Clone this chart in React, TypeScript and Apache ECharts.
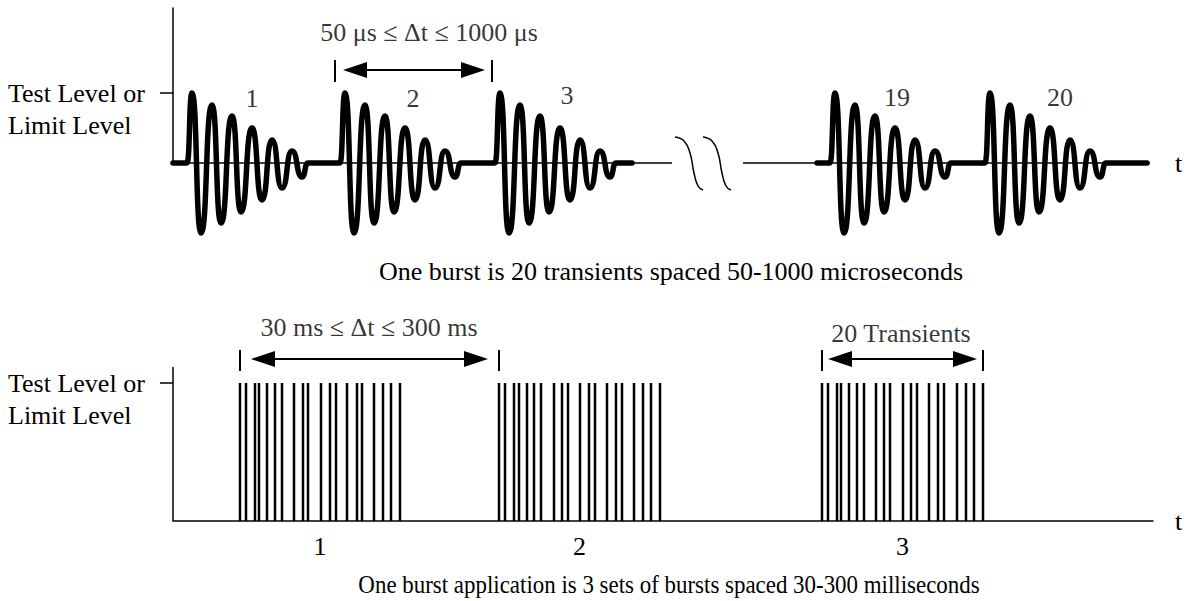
import React, { useEffect, useRef } from "react";
import * as echarts from "echarts";

const FONT = "Liberation Serif";
const FS = 26;
const BLACK = "#000";

// ---------- Upper panel (transients within one burst) ----------
// one damped transient: offsets from its rise point (x) and amplitude (y)
const transientX = [0, 5, 14, 25, 34, 45, 54, 65, 75, 85, 95, 105, 115, 121];
const transientY = [0, 70, -70, 58, -60, 47, -49, 35, -37, 23, -25, 12, -14, 0];
// rise position of each drawn transient
const transientStarts = [14, 167, 322, 657, 812];
const transientLabels = ["1", "2", "3", "19", "20"];
const transientLabelX = [79, 240, 394, 724, 887];
const transientLabelY = [65, 65, 68, 66, 66];
// thick trace segments [start, end]
const traceSegments = [
  [0, 459],
  [644, 974],
];
// thin time axis segments around the break
const baselineSegments = [
  [0, 499],
  [570, 977],
];
const breakCurveX = [502, 511, 517, 521, 525, 530];
const breakCurveY = [26, 22, 10, -10, -23, -27];
const breakShifts = [0, 28];
const upperLevel = 70;
const upperSpanText = "50 μs ≤ Δt ≤ 1000 μs";
const upperSpanTextPos = [256, 131];
const upperArrow = [182, 300, 93];
const upperArrowTicks = [162, 319];
const upperTickRange = [81, 103];
const upperCaption = "One burst is 20 transients spaced 50-1000 microseconds";

// ---------- Lower panel (bursts) ----------
const pulseSet1 = [67, 73, 82, 86, 94, 102, 109, 121, 130, 135, 148, 157, 163, 174, 184, 189, 201, 210, 218, 227];
const pulseSet2 = [326, 332, 341, 346, 354, 361, 368, 381, 389, 395, 407, 416, 422, 434, 443, 449, 461, 470, 478, 487];
const pulseSet3 = [649, 655, 664, 668, 676, 684, 691, 703, 711, 717, 730, 738, 744, 756, 765, 771, 784, 793, 801, 810];
const pulseLevel = 138;
const lowerAxisTop = 154;
const setLabels = ["1", "2", "3"];
const lowerSpanText = "30 ms ≤ Δt ≤ 300 ms";
const lowerSpanTextPos = [196, 194];
const lowerArrow = [90, 303, 162];
const lowerArrowTicks = [67, 326];
const transText = "20 Transients";
const transTextPos = [728, 188];
const transArrow = [667, 792, 162];
const transArrowTicks = [649, 810];
const lowerTickRange = [150, 171];
const lowerCaption = "One burst application is 3 sets of bursts spaced 30-300 milliseconds";

const levelLabel = "Test Level or\nLimit Level";

function arrowLines(arrow: number[], ticks: number[], tickRange: number[]) {
  const [x1, x2, y] = arrow;
  const out: any[] = [
    [
      { coord: [x1, y], symbol: "triangle", symbolSize: [16, 24] },
      { coord: [x2, y], symbol: "triangle", symbolSize: [16, 24] },
    ],
  ];
  ticks.forEach((t) => {
    out.push([
      { coord: [t, tickRange[0]], symbol: "none" },
      { coord: [t, tickRange[1]], symbol: "none" },
    ]);
  });
  return out;
}

export default function App() {
  const ref = useRef<HTMLDivElement>(null);
  useEffect(() => {
    document.body.style.margin = "0";
    const chart = echarts.init(ref.current!, null, { renderer: "svg" });
    const textStyle = { fontFamily: FONT, fontSize: FS, color: BLACK };

    const traceSeries = traceSegments.map(([s, e]) => {
      const pts: number[][] = [[s, 0]];
      transientStarts
        .filter((t) => t >= s && t <= e)
        .forEach((t) => transientX.forEach((dx, i) => pts.push([t + dx, transientY[i]])));
      pts.push([e, 0]);
      return {
        type: "line",
        xAxisIndex: 0,
        yAxisIndex: 0,
        data: pts,
        smooth: 0.6,
        smoothMonotone: "x",
        symbol: "none",
        lineStyle: { color: BLACK, width: 5.5, cap: "round", join: "round" },
        clip: false,
        silent: true,
        z: 3,
      };
    });

    const baselineSeries = baselineSegments.map(([s, e]) => ({
      type: "line",
      xAxisIndex: 0,
      yAxisIndex: 0,
      data: [
        [s, 0],
        [e, 0],
      ],
      symbol: "none",
      lineStyle: { color: BLACK, width: 1.5 },
      clip: false,
      silent: true,
      z: 4,
    }));

    const breakSeries = breakShifts.map((sh) => ({
      type: "line",
      xAxisIndex: 0,
      yAxisIndex: 0,
      data: breakCurveX.map((x, i) => [x + sh, breakCurveY[i]]),
      smooth: true,
      symbol: "none",
      lineStyle: { color: BLACK, width: 1.5 },
      clip: false,
      silent: true,
    }));

    const markLineBase = {
      silent: true,
      label: { show: false },
      lineStyle: { color: BLACK, width: 2, type: "solid" },
      itemStyle: { color: BLACK },
      emphasis: { disabled: true },
      animation: false,
    };

    const upperAnnot = {
      type: "scatter",
      xAxisIndex: 0,
      yAxisIndex: 0,
      symbolSize: 1,
      itemStyle: { color: "rgba(0,0,0,0)" },
      clip: false,
      silent: true,
      data: [
        ...transientLabels.map((n, i) => ({ name: n, value: [transientLabelX[i], transientLabelY[i]] })),
        { name: upperSpanText, value: upperSpanTextPos },
      ],
      label: { show: true, position: "inside", formatter: "{b}", ...textStyle },
      markLine: { ...markLineBase, data: arrowLines(upperArrow, upperArrowTicks, upperTickRange) },
    };

    const allPulses = [...pulseSet1, ...pulseSet2, ...pulseSet3];
    const pulseSeries = {
      type: "bar",
      xAxisIndex: 1,
      yAxisIndex: 1,
      data: allPulses.map((x) => [x, pulseLevel]),
      barWidth: 2.5,
      itemStyle: { color: BLACK },
      silent: true,
    };

    // vertical amplitude axis of the lower panel (only up to lowerAxisTop)
    const lowerAxisSeries = {
      type: "line",
      xAxisIndex: 1,
      yAxisIndex: 1,
      data: [
        [0, 0],
        [0, lowerAxisTop],
      ],
      symbol: "none",
      lineStyle: { color: BLACK, width: 1.5 },
      silent: true,
      clip: false,
    };

    const lowerAnnot = {
      type: "scatter",
      xAxisIndex: 1,
      yAxisIndex: 1,
      symbolSize: 1,
      itemStyle: { color: "rgba(0,0,0,0)" },
      clip: false,
      silent: true,
      data: [
        { name: lowerSpanText, value: lowerSpanTextPos },
        { name: transText, value: transTextPos },
      ],
      label: { show: true, position: "inside", formatter: "{b}", ...textStyle },
      markLine: {
        ...markLineBase,
        data: [
          ...arrowLines(lowerArrow, lowerArrowTicks, lowerTickRange),
          ...arrowLines(transArrow, transArrowTicks, lowerTickRange),
        ],
      },
    };

    const sets = [pulseSet1, pulseSet2, pulseSet3];
    const setCenters = sets.map((s) => (s[0] + s[s.length - 1]) / 2);

    const yAxisCommon = (level: number, max: number, gridIndex: number, showLine: boolean) => ({
      gridIndex,
      type: "value",
      min: 0,
      max,
      axisLine: { show: showLine, lineStyle: { color: BLACK, width: 1.5 } },
      axisTick: { show: true, customValues: [level], length: 13, inside: false, lineStyle: { color: BLACK, width: 1.5 } },
      axisLabel: {
        show: true,
        customValues: [level],
        formatter: () => " \n" + levelLabel,
        align: "left",
        verticalAlign: "middle",
        margin: 165,
        lineHeight: 32,
        ...textStyle,
      },
      splitLine: { show: false },
    });

    const option: any = {
      animation: false,
      backgroundColor: "#fff",
      grid: [
        { left: 173, top: 8, width: 980, height: 155 },
        { left: 173, top: 301, width: 980, height: 220 },
      ],
      xAxis: [
        {
          gridIndex: 0,
          type: "value",
          min: 0,
          max: 980,
          axisLine: { show: false },
          axisTick: { show: false },
          axisLabel: { show: false },
          splitLine: { show: false },
          name: "t",
          nameLocation: "end",
          nameGap: 22,
          nameTextStyle: { ...textStyle, verticalAlign: "middle" },
        },
        {
          gridIndex: 1,
          type: "value",
          min: 0,
          max: 980,
          axisLine: { show: true, lineStyle: { color: BLACK, width: 1.5 } },
          axisTick: { show: false },
          axisLabel: {
            show: true,
            customValues: setCenters,
            formatter: (v: number) => {
              let best = 0;
              setCenters.forEach((c, i) => {
                if (Math.abs(c - v) < Math.abs(setCenters[best] - v)) best = i;
              });
              return setLabels[best];
            },
            margin: 12,
            ...textStyle,
          },
          splitLine: { show: false },
          name: "t",
          nameLocation: "end",
          nameGap: 22,
          nameTextStyle: { ...textStyle, verticalAlign: "middle" },
        },
      ],
      yAxis: [yAxisCommon(upperLevel, 155, 0, true), yAxisCommon(pulseLevel, 220, 1, false)],
      series: [...traceSeries, ...baselineSeries, ...breakSeries, upperAnnot, pulseSeries, lowerAxisSeries, lowerAnnot],
      graphic: [
        {
          type: "text",
          x: 671,
          y: 271,
          silent: true,
          style: { text: upperCaption, font: `${FS}px "${FONT}"`, fill: BLACK, align: "center", verticalAlign: "middle" },
        },
        {
          type: "text",
          x: 669,
          y: 584,
          scaleX: 0.882,
          silent: true,
          style: { text: lowerCaption, font: `${FS}px "${FONT}"`, fill: BLACK, align: "center", verticalAlign: "middle" },
        },
      ],
    };
    chart.setOption(option);
    return () => chart.dispose();
  }, []);
  return <div ref={ref} style={{ width: 1190, height: 601, position: "absolute", left: 0, top: 0 }} />;
}
